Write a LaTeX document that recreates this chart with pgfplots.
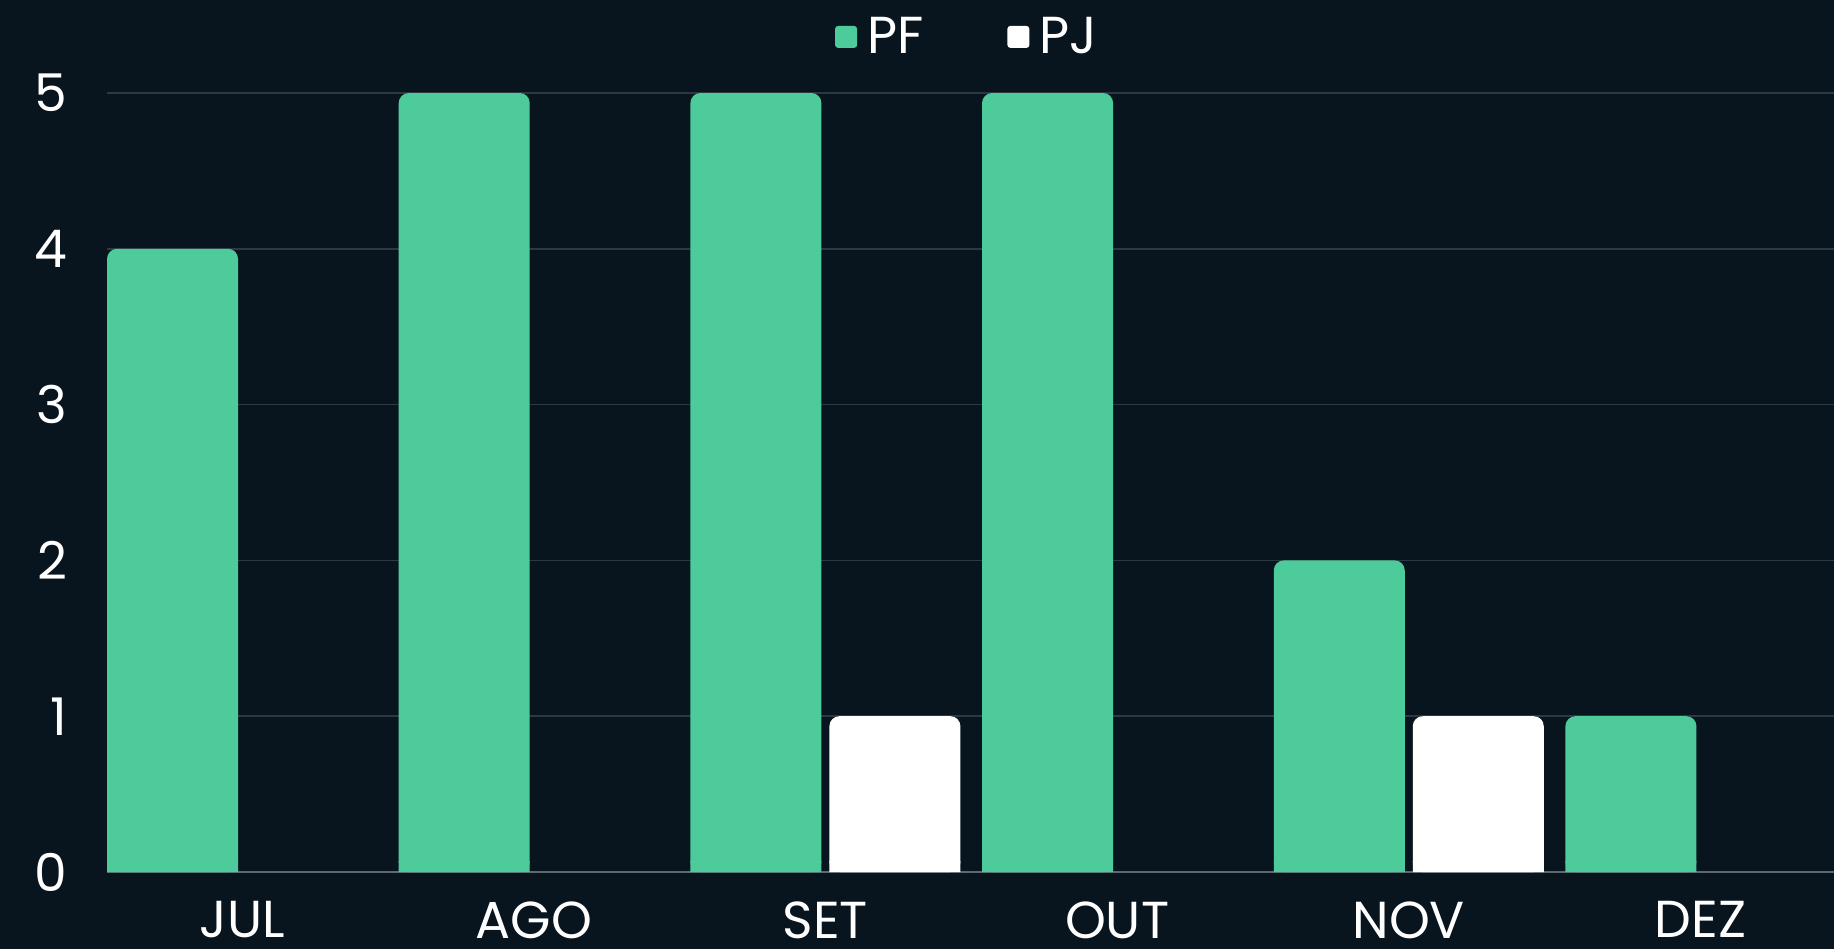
\documentclass[border=0pt]{standalone}
\usepackage{pgfplots}
\pgfplotsset{compat=1.18}
\usepackage{fontspec}
\setmainfont{Poppins}
\definecolor{bg}{HTML}{08151F}
\definecolor{pfgreen}{HTML}{4ECB9A}
\definecolor{gridc}{HTML}{2C3842}
\definecolor{axc}{HTML}{5E686F}
\begin{document}
\begin{tikzpicture}
\fill[bg] (0,0) rectangle (917pt,474.5pt);
\begin{axis}[
  at={(53.5pt,38.5pt)}, anchor=south west,
  scale only axis,
  width=863.5pt, height=389.5pt,
  xmin=-0.463, xmax=5.458,
  ymin=0, ymax=5,
  clip=false,
  separate axis lines,
  axis x line=bottom,
  axis y line=left,
  x axis line style={draw=axc, line width=1.2pt, -},
  y axis line style={draw=none, -},
  xtick={0,1,2,3,4,5},
  xticklabels={JUL,AGO,SET,OUT,NOV,DEZ},
  ytick={0,1,2,3,4,5},
  major tick length=0pt,
  ymajorgrids,
  grid style={draw=gridc, line width=0.8pt},
  /pgf/number format/assume math mode=true,
  tick label style={font=\fontsize{26}{30}\selectfont, text=white, inner sep=0pt},
  xticklabel style={anchor=north, yshift=-14.5pt, text depth=0pt},
  yticklabel style={anchor=east, xshift=-19.5pt},
  legend style={at={(0.4986,1.072)}, anchor=center, draw=none, fill=none,
    legend columns=2, text=white, font=\fontsize{26}{30}\selectfont,
    /tikz/every even column/.append style={column sep=40pt},
    /tikz/every odd column/.append style={column sep=3pt},
    legend cell align=left},
  legend image code/.code={\fill[#1, rounded corners=1.5pt] (0pt,-5.5pt) rectangle (11pt,5.5pt);},
]
\addplot[ybar, fill=pfgreen, draw=none, bar width=65.5pt, bar shift=-34.75pt, rounded corners=5pt]
  coordinates {(0,4) (1,5) (2,5) (3,5) (4,2) (5,1)};
\addlegendentry{PF}
\addplot[ybar, fill=white, draw=none, bar width=65.5pt, bar shift=34.75pt, rounded corners=5pt]
  coordinates {(2,1) (4,1)};
\addlegendentry{PJ}
\addplot[ybar, fill=pfgreen, draw=none, bar width=65.5pt, bar shift=-34.75pt, forget plot]
  coordinates {(0,0.07) (1,0.07) (2,0.07) (3,0.07) (4,0.07) (5,0.07)};
\addplot[ybar, fill=white, draw=none, bar width=65.5pt, bar shift=34.75pt, forget plot]
  coordinates {(2,0.07) (4,0.07)};
\end{axis}
\pgfresetboundingbox
\path (0,0) rectangle (917pt,474.5pt);
\end{tikzpicture}
\end{document}
